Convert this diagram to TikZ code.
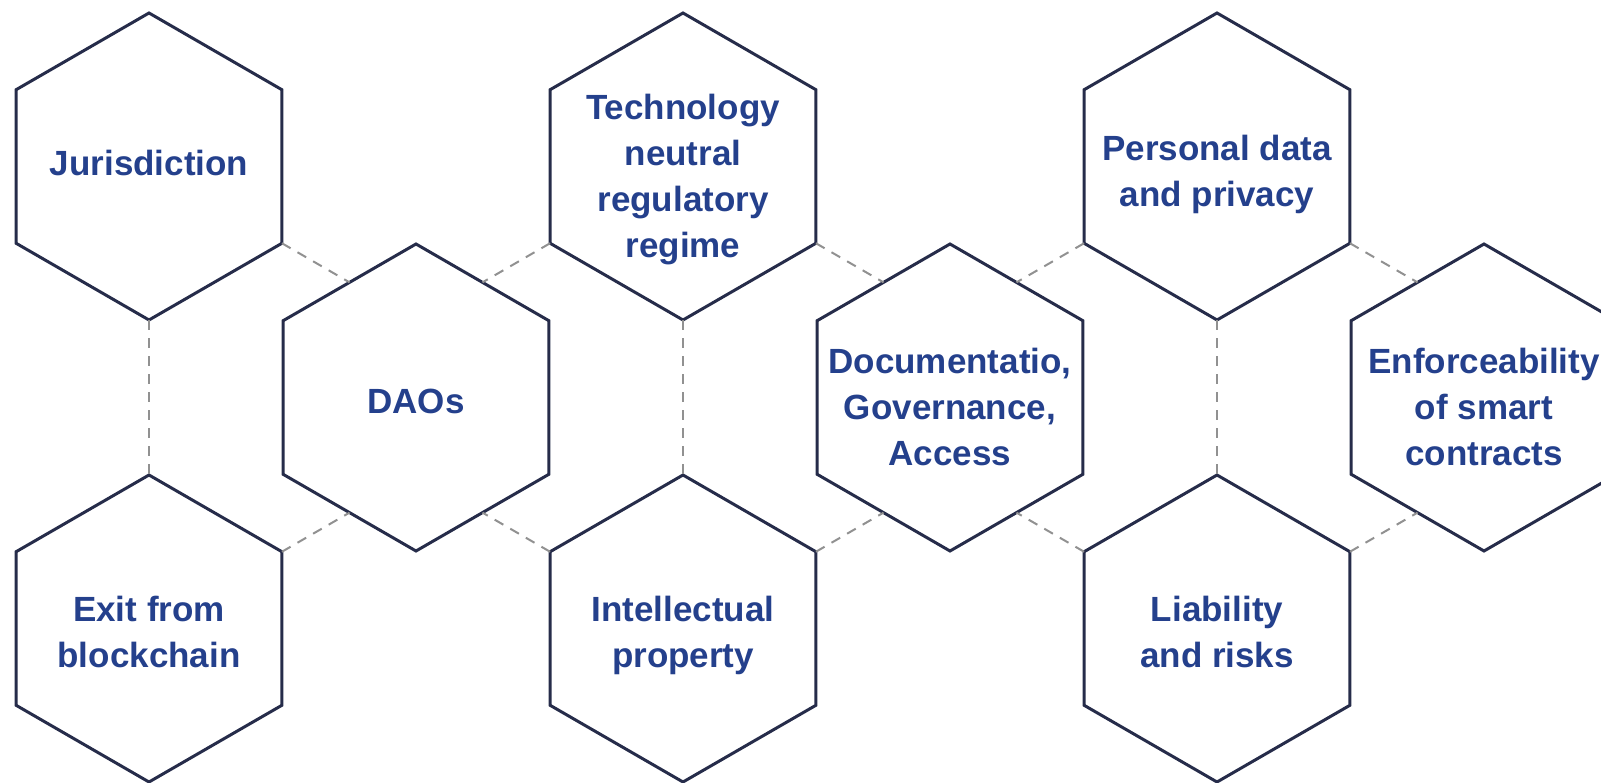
\documentclass[tikz,border=0pt]{standalone}
\usepackage{fontspec}
\setmainfont{Liberation Sans}
\usetikzlibrary{shapes.geometric}

\definecolor{hexline}{RGB}{38,44,74}
\definecolor{hextext}{RGB}{36,64,140}
\definecolor{dashgrey}{RGB}{145,145,145}

\tikzset{
	hexa/.style={regular polygon, regular polygon sides=6, shape border rotate=30,
		minimum size=307pt, inner sep=0pt, outer sep=0pt, draw=hexline, line width=3pt},
	txt/.style={text=hextext, align=center, inner sep=0pt,
		font=\fontsize{35}{46}\selectfont\bfseries},
	link/.style={draw=dashgrey, line width=2pt, dash pattern=on 10pt off 8pt}
}

\begin{document}
\begin{tikzpicture}[x=1pt, y=-1pt]
		%\draw[help lines] (0,0) grid[step=100] (1601,783);
		\useasboundingbox (0,0) rectangle (1601,783);
		\clip (0,0) rectangle (1601,783);
		
		\foreach \n/\x/\y in {jur/149/166.5, exi/149/628.5, dao/416/397.5,
			tec/683/166.5, int/683/628.5, doc/950/397.5,
			per/1217/166.5, lia/1217/628.5, enf/1484/397.5}
		\node[hexa] (\n) at (\x,\y) {};
		
		\node[txt] (jur-t) at ([yshift=4pt]jur) {Jurisdiction};
		\node[txt] (exi-t) at ([yshift=-3pt]exi) {Exit from\\blockchain};
		\node[txt] (dao-t) at ([yshift=-4pt]dao) {DAOs};
		\node[txt] (tec-t) at ([yshift=-13.5pt]tec) {Technology\\neutral\\regulatory\\regime};
		\node[txt] (int-t) at ([yshift=-7pt]int) {Intellectual\\property};
		\node[txt] (doc-t) at ([yshift=-9.5pt]doc) {Documentatio,\\Governance,\\Access};
		\node[txt] (per-t) at ([yshift=-7.5pt]per) {Personal data\\and privacy};
		\node[txt] (lia-t) at ([yshift=-3pt]lia) {Liability\\and risks};
		\node[txt] (enf-t) at ([yshift=-9.5pt]enf) {Enforceability\\of smart\\contracts};
		
		\foreach \a/\i/\b/\j in {jur/-30/dao/120, tec/-150/dao/60,
			exi/30/dao/-120, int/150/dao/-60,
			tec/-30/doc/120, per/-150/doc/60,
			int/30/doc/-120, lia/150/doc/-60,
			per/-30/enf/120, lia/30/enf/-120,
			jur/-90/exi/90, tec/-90/int/90, per/-90/lia/90}
		\draw[link] (\a.\i) -- (\b.\j);
	\end{tikzpicture}
\end{document}
